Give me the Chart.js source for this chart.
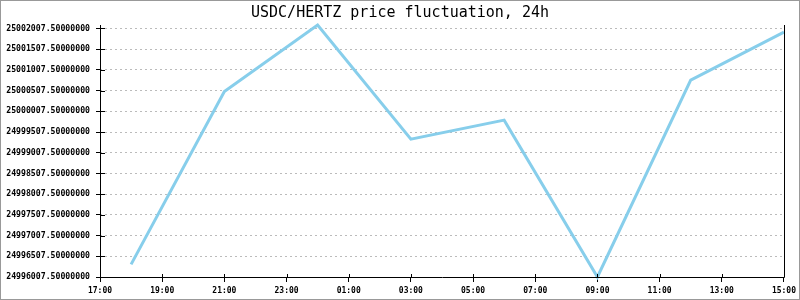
<!DOCTYPE html>
<html>
<head>
<meta charset="utf-8">
<script src="https://cdn.jsdelivr.net/npm/chart.js@4/dist/chart.umd.min.js"></script>
<style>
  html, body { margin: 0; padding: 0; background: #fff; }
  #wrap { width: 800px; height: 300px; position: relative; }
</style>
</head>
<body>
<div id="wrap"><canvas id="chart" width="800" height="300"></canvas></div>
<script>
// chart data
var times = ['18:00', '21:00', '00:00', '03:00', '06:00', '09:00', '12:00', '15:00'];
var prices = [24996312, 25000487, 25002092, 24999336, 24999795, 24996007.5, 25000760, 25001918];
var yTicks = [
    24996007.5, 24996507.5, 24997007.5, 24997507.5, 24998007.5, 24998507.5, 24999007.5,
    24999507.5, 25000007.5, 25000507.5, 25001007.5, 25001507.5, 25002007.5
];
var xStart = 17, xEnd = 39; // 17:00 .. 15:00 next day, in hours

// turn the clock times into running hours (roll over midnight)
var hours = [];
var prev = -1, dayOffset = 0;
times.forEach(function(t) {
    var h = parseInt(t.split(':')[0], 10);
    if (h < prev) dayOffset += 24;
    prev = h;
    hours.push(h + dayOffset);
});

function pad(n) { return (n < 10 ? '0' : '') + n; }

var frame = {
    id: 'frame',
    beforeDraw: function(chart) {
        var ctx = chart.ctx;
        ctx.save();
        ctx.fillStyle = '#fff';
        ctx.fillRect(0, 0, chart.width, chart.height);
        ctx.restore();
    },
    afterDatasetsDraw: function(chart) {
        var ctx = chart.ctx, a = chart.chartArea;
        var xs = chart.scales.x, ys = chart.scales.y;
        ctx.save();
        ctx.strokeStyle = '#000';
        ctx.lineWidth = 1;
        ctx.beginPath();
        // axis lines: left, bottom, right
        ctx.moveTo(Math.round(a.left) + 0.5, a.top);
        ctx.lineTo(Math.round(a.left) + 0.5, Math.round(a.bottom) + 0.5);
        ctx.lineTo(Math.round(a.right) + 0.5, Math.round(a.bottom) + 0.5);
        ctx.lineTo(Math.round(a.right) + 0.5, a.top);
        // inner half of the tick marks
        ys.ticks.forEach(function(t) {
            var y = Math.round(ys.getPixelForValue(t.value)) + 0.5;
            ctx.moveTo(a.left, y);
            ctx.lineTo(a.left + 5, y);
        });
        xs.ticks.forEach(function(t) {
            var x = Math.round(xs.getPixelForValue(t.value)) + 0.5;
            ctx.moveTo(x, a.bottom);
            ctx.lineTo(x, a.bottom - 3);
        });
        ctx.stroke();
        ctx.restore();
    },
    afterDraw: function(chart) {
        var ctx = chart.ctx;
        ctx.save();
        ctx.strokeStyle = '#999';
        ctx.lineWidth = 2;
        ctx.strokeRect(0, 0, chart.width, chart.height);
        ctx.restore();
    }
};

var ctx = document.getElementById('chart').getContext('2d');
var chart = new Chart(ctx, {
    type: 'line',
    data: {
        datasets: [{
            label: 'USDC/HERTZ',
            data: hours.map(function(h, i) { return { x: h, y: prices[i] }; }),
            borderColor: '#87ceeb',
            borderWidth: 3,
            pointRadius: 0,
            tension: 0,
            fill: false,
            clip: false
        }]
    },
    options: {
        responsive: false,
        animation: false,
        events: [],
        layout: { padding: 0 },
        plugins: {
            legend: { display: false },
            tooltip: { enabled: false },
            title: {
                display: true,
                text: 'USDC/HERTZ price fluctuation, 24h',
                color: '#000',
                font: { family: 'DejaVu Sans Mono', size: 15, weight: 'normal', lineHeight: 1.2 },
                padding: { top: 4, bottom: 3 }
            }
        },
        scales: {
            x: {
                type: 'linear',
                min: xStart,
                max: xEnd,
                ticks: {
                    stepSize: 2,
                    color: '#000',
                    padding: 4,
                    maxRotation: 0,
                    autoSkip: false,
                    font: { family: 'DejaVu Sans Mono', size: 8, weight: 'bold' },
                    callback: function(v) { return pad(v % 24) + ':00'; }
                },
                grid: { drawOnChartArea: false, tickLength: 5, tickColor: '#000' },
                border: { display: false },
                afterFit: function(s) { s.height = 23; }
            },
            y: {
                min: yTicks[0],
                max: 25002092,
                afterBuildTicks: function(s) {
                    s.ticks = yTicks.map(function(v) { return { value: v }; });
                },
                ticks: {
                    color: '#000',
                    padding: 6,
                    font: { family: 'DejaVu Sans Mono', size: 8.2, weight: 'bold' },
                    callback: function(v) { return Number(v).toFixed(8); }
                },
                grid: { color: '#bbb', tickLength: 4, tickColor: '#000', tickBorderDash: [] },
                border: { display: false, dash: [2, 3] },
                afterFit: function(s) { s.width = 100; }
            },
            // empty right-hand strip so the plot ends at the same place as the reference
            yRight: {
                position: 'right',
                display: true,
                grid: { display: false },
                ticks: { display: false },
                border: { display: false },
                afterFit: function(s) { s.width = 15; }
            }
        }
    },
    plugins: [frame]
});
</script>
</body>
</html>
